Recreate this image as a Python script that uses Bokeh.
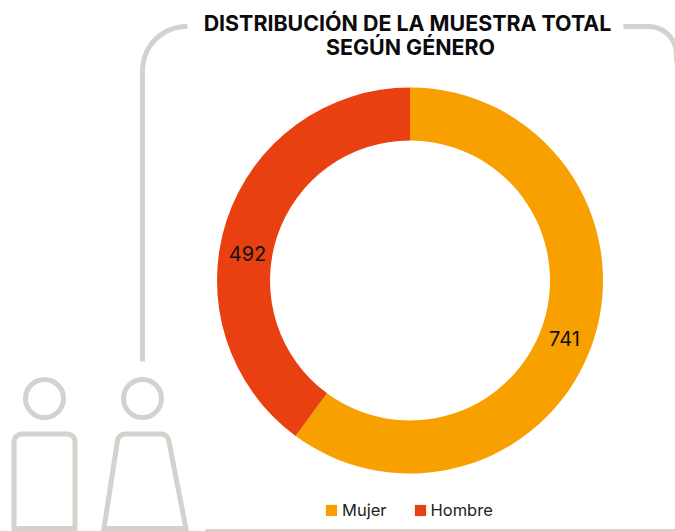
import math
from bokeh.plotting import figure
from bokeh.models import ColumnDataSource, Legend, LegendItem, Range1d
from bokeh.core.properties import value
from bokeh.embed import file_html
from bokeh.resources import INLINE

W, H = 675, 531
categories = ["Mujer", "Hombre"]
counts = [741, 492]
colors = ["#F7A000", "#E84011"]
label_pos_x = [564, 247]
label_pos_y = [338, 253]
title_lines = ["DISTRIBUCIÓN DE LA MUESTRA TOTAL", "SEGÚN GÉNERO"]
GREY = "#D3D2CD"
FONT = "Inter"

p = figure(width=W, height=H, output_backend="svg", toolbar_location=None,
           x_range=Range1d(0, W), y_range=Range1d(0, H), min_border=0,
           x_axis_type=None, y_axis_type=None, outline_line_color=None)
p.grid.visible = False

def Y(y):
    return H - y

def rounded(points, radii, n=14):
    """Polyline through points, with circular fillets at inner corners."""
    xs, ys = [points[0][0]], [points[0][1]]
    for i in range(1, len(points) - 1):
        (x0, y0), (x1, y1), (x2, y2) = points[i - 1], points[i], points[i + 1]
        r = radii[i - 1]
        ax, ay = x0 - x1, y0 - y1
        bx, by = x2 - x1, y2 - y1
        la, lb = math.hypot(ax, ay), math.hypot(bx, by)
        ax, ay, bx, by = ax / la, ay / la, bx / lb, by / lb
        half = math.acos(ax * bx + ay * by) / 2
        d = r / math.tan(half)
        mx, my = ax + bx, ay + by
        lm = math.hypot(mx, my)
        cx = x1 + mx / lm * r / math.sin(half)
        cy = y1 + my / lm * r / math.sin(half)
        s = (x1 + ax * d, y1 + ay * d)
        e = (x1 + bx * d, y1 + by * d)
        a0 = math.atan2(s[1] - cy, s[0] - cx)
        a1 = math.atan2(e[1] - cy, e[0] - cx)
        da = (a1 - a0 + math.pi) % (2 * math.pi) - math.pi
        for k in range(n + 1):
            t = a0 + da * k / n
            xs.append(cx + r * math.cos(t))
            ys.append(cy + r * math.sin(t))
    xs.append(points[-1][0])
    ys.append(points[-1][1])
    return xs, [Y(v) for v in ys]

def deco(points, radii):
    xs, ys = rounded(points, radii)
    p.line(xs, ys, line_color=GREY, line_width=5, line_join="round")

# frame around the chart
deco([(142, 361), (142, 26), (187, 26)], [44])
deco([(623, 26), (676, 26), (676, 62)], [28])
p.line([205, 675], [Y(530), Y(530)], line_color=GREY, line_width=3)

# person icons
p.circle([44, 142], [Y(398), Y(398)], radius=19, fill_color=None,
         line_color=GREY, line_width=5)
deco([(13.5, 531), (13.5, 433.5), (74.5, 433.5), (74.5, 531)], [8, 8])
deco([(13.5, 528), (74.5, 528)], [])
deco([(103, 531), (118, 433.5), (167, 433.5), (186, 531)], [8, 8])
deco([(103, 528), (186, 528)], [])

# donut
CX, CY, R_OUT, R_IN = 409.5, 280, 193, 140
total = sum(counts)
starts, ends, c = [], [], 0
for v in counts:
    starts.append(math.pi / 2 - 2 * math.pi * c / total)
    c += v
    ends.append(math.pi / 2 - 2 * math.pi * c / total)
src = ColumnDataSource(dict(cat=categories, v=counts, s=starts, e=ends, col=colors,
                            x=[CX] * 2, y=[Y(CY)] * 2))
ring = p.annular_wedge(x="x", y="y", inner_radius=R_IN, outer_radius=R_OUT,
                       start_angle="s", end_angle="e", direction="clock",
                       fill_color="col", line_color=None, source=src)

# value labels
p.text(x=label_pos_x, y=[Y(v) for v in label_pos_y], text=[str(v) for v in counts],
       text_font=value(FONT), text_font_size="20px", text_color="#111111",
       text_align="center", text_baseline="middle")

# title
p.text(x=[407, 410], y=[Y(22), Y(46)], text=title_lines, text_font=value(FONT),
       text_font_style="bold", text_font_size="21.4px", text_color="#0b0b0b",
       text_align="center", text_baseline="middle")

legend = Legend(items=[LegendItem(label=categories[i], renderers=[ring], index=i) for i in range(2)],
                orientation="horizontal", location=(324, H - 520), padding=0, margin=0,
                glyph_width=14, glyph_height=14, label_standoff=4, spacing=26,
                label_text_font=FONT, label_text_font_size="16.5px", label_text_color="#222222",
                background_fill_alpha=0, border_line_color=None, label_height=14)
p.add_layout(legend, "center")

open("out.html", "w").write(file_html(p, INLINE))
